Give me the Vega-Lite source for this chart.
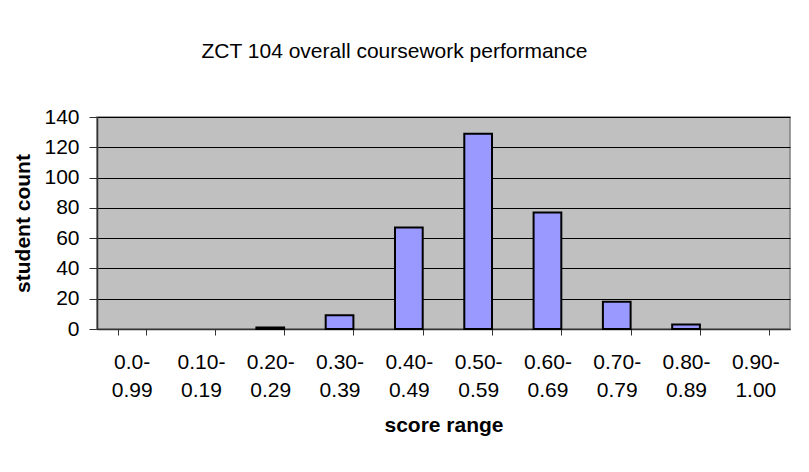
{
  "$schema": "https://vega.github.io/schema/vega-lite/v6.json",
  "width": 693,
  "height": 212,
  "autosize": {"type": "none"},
  "padding": {"left": 97, "top": 117, "right": 19, "bottom": 143},
  "background": "white",
  "title": {
    "text": "ZCT 104 overall coursework performance",
    "font": "Liberation Sans",
    "fontSize": 21,
    "fontWeight": "normal",
    "color": "black",
    "anchor": "middle",
    "frame": "group",
    "dx": -49,
    "offset": 44
  },
  "data": {
    "values": [
      {"range": "0.0-0.99", "count": 0},
      {"range": "0.10-0.19", "count": 0},
      {"range": "0.20-0.29", "count": 1},
      {"range": "0.30-0.39", "count": 9},
      {"range": "0.40-0.49", "count": 67},
      {"range": "0.50-0.59", "count": 129},
      {"range": "0.60-0.69", "count": 77},
      {"range": "0.70-0.79", "count": 18},
      {"range": "0.80-0.89", "count": 3},
      {"range": "0.90-1.00", "count": 0}
    ]
  },
  "mark": {"type": "bar", "fill": "#9999FF", "stroke": "black", "strokeWidth": 2},
  "encoding": {
    "x": {
      "field": "range",
      "type": "nominal",
      "sort": null,
      "scale": {"paddingInner": 0.6, "paddingOuter": 0.3},
      "axis": {
        "title": "score range",
        "titleFont": "Liberation Sans",
        "titleFontSize": 21,
        "titleFontWeight": "bold",
        "titleColor": "black",
        "titlePadding": 14,
        "labelExpr": "isString(datum.value) ? replace(datum.value, '-', '-|') : ''",
        "labelFont": "Liberation Sans",
        "labelFontSize": 21,
        "labelColor": "black",
        "labelAngle": 0,
        "labelLineHeight": 28,
        "labelPadding": 16,
        "tickBand": "extent",
        "tickSize": 6,
        "tickColor": "#333333",
        "domainColor": "#333333",
        "domainWidth": 1.5,
        "grid": false
      }
    },
    "y": {
      "field": "count",
      "type": "quantitative",
      "scale": {"domain": [0, 140], "nice": false},
      "axis": {
        "title": "student count",
        "titleFont": "Liberation Sans",
        "titleFontSize": 21,
        "titleFontWeight": "bold",
        "titleColor": "black",
        "titlePadding": 10,
        "values": [0, 20, 40, 60, 80, 100, 120, 140],
        "labelFont": "Liberation Sans",
        "labelFontSize": 21,
        "labelColor": "black",
        "labelPadding": 10,
        "tickSize": 8,
        "tickColor": "#333333",
        "domainColor": "#333333",
        "domainWidth": 1.5,
        "grid": true,
        "gridColor": "black",
        "gridWidth": 1
      }
    },
    "strokeOpacity": {"condition": {"test": "datum.count == 0", "value": 0}, "value": 1}
  },
  "config": {
    "font": "Liberation Sans",
    "style": {"guide-label": {"lineBreak": "|"}},
    "view": {"fill": "#C0C0C0", "stroke": "#808080", "strokeWidth": 1.5}
  }
}
